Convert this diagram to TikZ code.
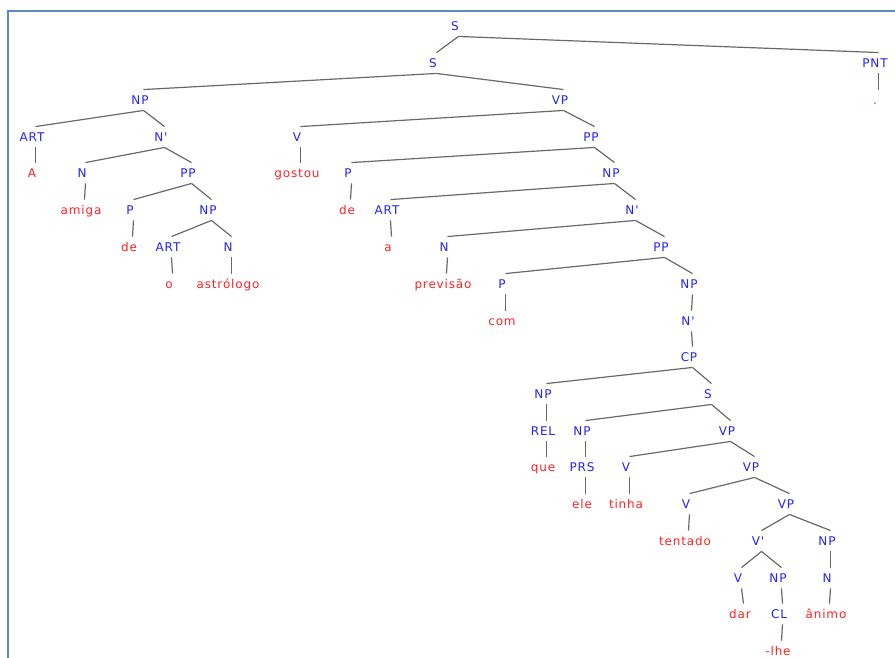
\documentclass[tikz,border=0pt]{standalone}
\usepackage{fontspec}
\setmainfont{DejaVu Sans}[LetterSpace=7, Ligatures=TeXOff]
\definecolor{catblue}{RGB}{35,35,250}
\definecolor{wordred}{RGB}{255,35,35}
\definecolor{edgegray}{RGB}{105,105,105}
\definecolor{framebl}{RGB}{92,136,198}
\begin{document}
\begin{tikzpicture}[x=1pt,y=-1pt,
  lab/.style={font=\fontsize{12}{14}\selectfont, text=catblue, inner xsep=0pt, inner ysep=6pt, text height=8.5pt, text depth=0pt},
  word/.style={lab, text=wordred},
  edge/.style={draw=edgegray, line width=1.2pt}]
\useasboundingbox (0,0) rectangle (895,657);
\fill[white] (0,0) rectangle (895,657);
\draw[framebl, line width=2pt] (900,11) -- (8,11) -- (8,665);
% top
\node[lab] (s0) at (455,26) {S};
\node[lab] (s1) at (433,63) {S};
\node[lab] (pnt) at (875,63) {PNT};
\node[word] (dot) at (875,100) {.};
% subject NP
\node[lab] (np1) at (140,100) {NP};
\node[lab] (art1) at (32,137) {ART};
\node[word] (A) at (32,173) {A};
\node[lab] (nb1) at (161,137) {N'};
\node[lab] (n1) at (82,173) {N};
\node[word] (amiga) at (81,210) {amiga};
\node[lab] (pp1) at (188,173) {PP};
\node[lab] (p1) at (130,210) {P};
\node[word] (de1) at (129,247) {de};
\node[lab] (np2) at (208,210) {NP};
\node[lab] (art2) at (168,247) {ART};
\node[word] (o) at (169,284) {o};
\node[lab] (n2) at (228,247) {N};
\node[word] (astrologo) at (228,284) {astrólogo};
% VP
\node[lab] (vp1) at (560,100) {VP};
\node[lab] (v1) at (297,137) {V};
\node[word] (gostou) at (297,173) {gostou};
\node[lab] (pp2) at (591,137) {PP};
\node[lab] (p2) at (348,173) {P};
\node[word] (de2) at (347,210) {de};
\node[lab] (np3) at (611,173) {NP};
\node[lab] (art3) at (387,210) {ART};
\node[word] (a) at (388,247) {a};
\node[lab] (nb2) at (632,210) {N'};
\node[lab] (n3) at (444,247) {N};
\node[word] (previsao) at (443,284) {previsão};
\node[lab] (pp3) at (661,247) {PP};
\node[lab] (p3) at (502,284) {P};
\node[word] (com) at (502,321) {com};
\node[lab] (np4) at (689,284) {NP};
\node[lab] (nb3) at (688,321) {N'};
\node[lab] (cp) at (689,357) {CP};
\node[lab] (np5) at (543,394) {NP};
\node[lab] (rel) at (543,431) {REL};
\node[word] (que) at (543,467) {que};
\node[lab] (s2) at (708,394) {S};
\node[lab] (np6) at (582,431) {NP};
\node[lab] (prs) at (582,467) {PRS};
\node[word] (ele) at (582,504) {ele};
\node[lab] (vp2) at (727,431) {VP};
\node[lab] (v2) at (626,467) {V};
\node[word] (tinha) at (626,504) {tinha};
\node[lab] (vp3) at (751,467) {VP};
\node[lab] (v3) at (686,504) {V};
\node[word] (tentado) at (685,541) {tentado};
\node[lab] (vp4) at (786,504) {VP};
\node[lab] (vb) at (758,541) {V'};
\node[lab] (v4) at (738,578) {V};
\node[word] (dar) at (740,614) {dar};
\node[lab] (np7) at (778,578) {NP};
\node[lab] (cl) at (779,614) {CL};
\node[word] (lhe) at (778,651) {-lhe};
\node[lab] (np8) at (827,541) {NP};
\node[lab] (n4) at (827,578) {N};
\node[word] (animo) at (826,614) {ânimo};
% edges
\foreach \p/\c in {s0/s1, s0/pnt, pnt/dot,
  s1/np1, s1/vp1,
  np1/art1, art1/A, np1/nb1, nb1/n1, n1/amiga, nb1/pp1, pp1/p1, p1/de1, pp1/np2,
  np2/art2, art2/o, np2/n2, n2/astrologo,
  vp1/v1, v1/gostou, vp1/pp2, pp2/p2, p2/de2, pp2/np3, np3/art3, art3/a, np3/nb2,
  nb2/n3, n3/previsao, nb2/pp3, pp3/p3, p3/com, pp3/np4, np4/nb3, nb3/cp,
  cp/np5, np5/rel, rel/que, cp/s2, s2/np6, np6/prs, prs/ele, s2/vp2,
  vp2/v2, v2/tinha, vp2/vp3, vp3/v3, v3/tentado, vp3/vp4, vp4/vb, vb/v4, v4/dar,
  vb/np7, np7/cl, cl/lhe, vp4/np8, np8/n4, n4/animo}
  \draw[edge] ([xshift=3.5pt]\p.south) -- ([xshift=3.5pt]\c.north);
\end{tikzpicture}
\end{document}
